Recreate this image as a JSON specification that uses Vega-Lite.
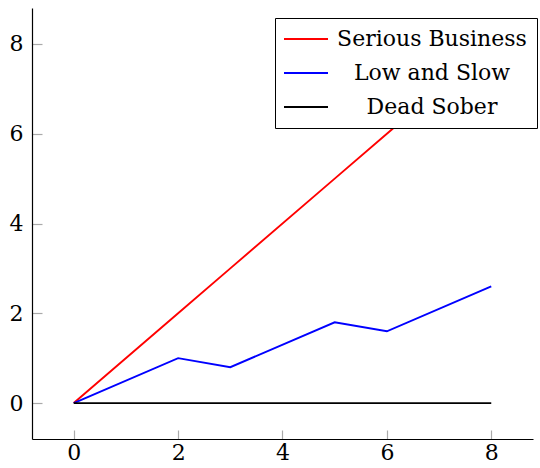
{
  "$schema": "https://vega.github.io/schema/vega-lite/v6.json",
  "width": 501,
  "height": 431,
  "autosize": {"type": "none"},
  "padding": {"left": 32, "top": 8, "right": 7, "bottom": 29},
  "background": "white",
  "data": {"values": [
    {"series": "Serious Business", "x": 0, "y": 0},
    {"series": "Serious Business", "x": 2, "y": 2},
    {"series": "Serious Business", "x": 3, "y": 3},
    {"series": "Serious Business", "x": 5, "y": 5},
    {"series": "Serious Business", "x": 6, "y": 6},
    {"series": "Serious Business", "x": 8, "y": 8},
    {"series": "Low and Slow", "x": 0, "y": 0},
    {"series": "Low and Slow", "x": 2, "y": 1},
    {"series": "Low and Slow", "x": 3, "y": 0.8},
    {"series": "Low and Slow", "x": 5, "y": 1.8},
    {"series": "Low and Slow", "x": 6, "y": 1.6},
    {"series": "Low and Slow", "x": 8, "y": 2.6},
    {"series": "Dead Sober", "x": 0, "y": 0},
    {"series": "Dead Sober", "x": 2, "y": 0},
    {"series": "Dead Sober", "x": 3, "y": 0},
    {"series": "Dead Sober", "x": 5, "y": 0},
    {"series": "Dead Sober", "x": 6, "y": 0},
    {"series": "Dead Sober", "x": 8, "y": 0}
  ]},
  "mark": {"type": "line", "strokeWidth": 1.9},
  "encoding": {
    "x": {"field": "x", "type": "quantitative",
      "scale": {"domain": [-0.8, 8.8], "nice": false, "zero": false},
      "axis": {"title": null, "values": [0, 2, 4, 6, 8], "grid": false,
        "domainColor": "black", "domainWidth": 1.2,
        "tickColor": "#aaaaaa", "tickWidth": 1.2, "tickSize": -9,
        "labelPadding": 12, "labelFont": "DejaVu Serif", "labelFontSize": 22,
        "labelColor": "black", "labelFlush": false}},
    "y": {"field": "y", "type": "quantitative",
      "scale": {"domain": [-0.8, 8.8], "nice": false, "zero": false},
      "axis": {"title": null, "values": [0, 2, 4, 6, 8], "grid": false,
        "domainColor": "black", "domainWidth": 1.2,
        "tickColor": "#aaaaaa", "tickWidth": 1.2, "tickSize": -10,
        "labelPadding": 19, "labelFont": "DejaVu Serif", "labelFontSize": 22,
        "labelColor": "black", "labelFlush": false}},
    "color": {"field": "series", "type": "nominal",
      "scale": {"domain": ["Serious Business", "Low and Slow", "Dead Sober"],
        "range": ["#ff0000", "#0000ff", "#000000"]},
      "legend": {"title": null, "orient": "none", "legendX": 243, "legendY": 10,
        "strokeColor": "black", "fillColor": "white", "padding": 10,
        "labelFont": "DejaVu Serif", "labelFontSize": 22, "labelColor": "black",
        "labelAlign": "center", "labelOffset": 115, "labelLimit": 400,
        "symbolType": "M-4,0H4", "symbolSize": 121, "symbolStrokeWidth": 1.9,
        "symbolOffset": 10, "rowPadding": 12}},
    "order": {"field": "x", "type": "quantitative"}
  },
  "config": {"view": {"stroke": null}}
}
